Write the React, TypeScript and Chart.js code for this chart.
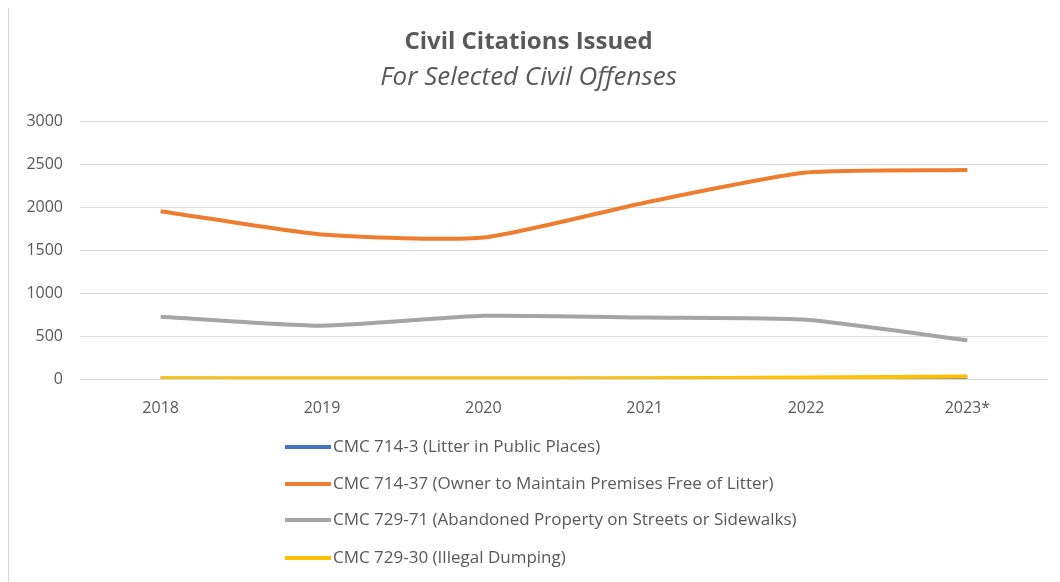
import React, { useEffect, useRef } from "react";
import { Chart, registerables } from "chart.js";

Chart.register(...registerables);

const years = ["2018", "2019", "2020", "2021", "2022", "2023*"];
const litterPublic = [4, 3, 3, 4, 6, 8];
const ownerPremises = [1950, 1680, 1645, 2050, 2400, 2430];
const abandonedProperty = [725, 620, 735, 715, 690, 450];
const illegalDumping = [8, 6, 5, 8, 18, 28];
const seriesNames = [
  "CMC 714-3 (Litter in Public Places)",
  "CMC 714-37 (Owner to Maintain Premises Free of Litter)",
  "CMC 729-71 (Abandoned Property on Streets or Sidewalks)",
  "CMC 729-30 (Illegal Dumping)",
];
const titleText = "Civil Citations Issued";
const subtitleText = "For Selected Civil Offenses";

const FONT = "'Open Sans', 'Noto Sans', sans-serif";
const TEXT = "#595959";

const legendPlugin = {
  id: "stackedLegend",
  afterDraw(chart: any) {
    const ctx = chart.ctx;
    const ys = [441, 478, 514, 552];
    ctx.save();
    chart.data.datasets.forEach((ds: any, i: number) => {
      const y = ys[i];
      ctx.strokeStyle = ds.borderColor;
      ctx.lineWidth = 4;
      ctx.lineCap = "butt";
      ctx.beginPath();
      ctx.moveTo(276, y);
      ctx.lineTo(322, y);
      ctx.stroke();
      ctx.fillStyle = TEXT;
      ctx.font = `17px ${FONT}`;
      ctx.textBaseline = "middle";
      ctx.textAlign = "left";
      ctx.fillText(ds.label, 324, y);
    });
    ctx.restore();
  },
};

export default function App() {
  const ref = useRef<HTMLCanvasElement>(null);
  useEffect(() => {
    if (!ref.current) return;
    const mk = (label: string, data: number[], color: string, order: number) => ({
      label,
      data,
      borderColor: color,
      backgroundColor: color,
      borderWidth: 4,
      pointRadius: 0,
      tension: 0.2,
      fill: false,
      order,
    });
    const chart = new Chart(ref.current, {
      type: "line",
      data: {
        labels: years,
        datasets: [
          mk(seriesNames[0], litterPublic, "#4472C4", 4),
          mk(seriesNames[1], ownerPremises, "#ED7D31", 3),
          mk(seriesNames[2], abandonedProperty, "#A5A5A5", 2),
          mk(seriesNames[3], illegalDumping, "#FFC000", 1),
        ],
      },
      options: {
        animation: false,
        responsive: true,
        maintainAspectRatio: false,
        layout: { padding: { left: 0, right: 4, top: 0, bottom: 163 } },
        plugins: {
          legend: { display: false },
          tooltip: { enabled: false },
          title: {
            display: true,
            text: titleText,
            color: TEXT,
            font: { family: FONT, size: 24, weight: "bold" },
            padding: { top: 21.6, bottom: 6 },
          },
          subtitle: {
            display: true,
            text: subtitleText,
            color: TEXT,
            font: { family: FONT, size: 26, style: "italic" },
            padding: { top: 0, bottom: 27.4 },
          },
        },
        scales: {
          x: {
            offset: true,
            grid: { display: false, drawTicks: false, offset: true },
            border: { display: false },
            ticks: { color: TEXT, font: { family: FONT, size: 16 }, padding: 20 },
            afterFit: (s: any) => {
              s.height = 40;
            },
          },
          y: {
            min: 0,
            max: 3000,
            grid: { color: "#D9D9D9", lineWidth: 1, drawTicks: false },
            border: { display: false },
            ticks: {
              stepSize: 500,
              color: TEXT,
              font: { family: FONT, size: 16 },
              padding: 17,
              callback: (v: any) => String(v),
            },
            afterFit: (s: any) => {
              s.width = 71;
            },
          },
        },
      },
      plugins: [legendPlugin],
    } as any);
    return () => chart.destroy();
  }, []);
  return (
    <div
      style={{
        width: 1044,
        height: 577,
        marginTop: -3,
        borderTop: "1px solid #D9D9D9",
        borderLeft: "1px solid #D9D9D9",
        boxSizing: "border-box",
        position: "relative",
        background: "#fff",
      }}
    >
      <canvas ref={ref} />
    </div>
  );
}
